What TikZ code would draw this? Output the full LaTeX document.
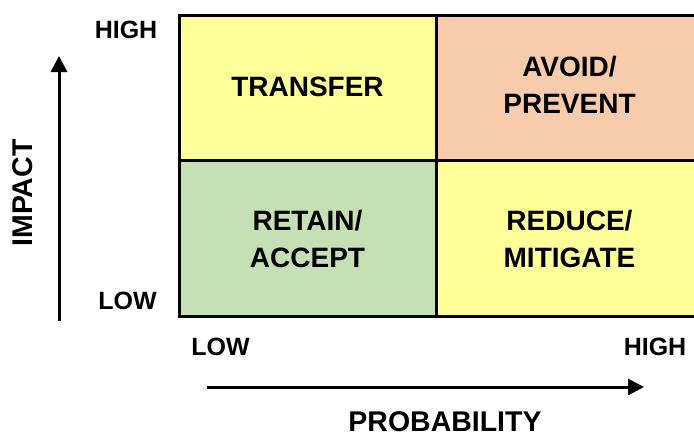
\documentclass[tikz,border=0pt]{standalone}
\usepackage{fontspec}
\setmainfont{Liberation Sans}
\usetikzlibrary{arrows.meta}

\definecolor{cellyellow}{HTML}{FFFF99}
\definecolor{cellorange}{HTML}{F8CBAD}
\definecolor{cellgreen}{HTML}{C5E0B4}

\tikzset{
  cell/.style={draw=black, line width=3pt},
  celltext/.style={font=\fontsize{28}{37}\selectfont\bfseries, align=center, inner sep=0pt},
  scaletext/.style={font=\fontsize{25}{28}\selectfont\bfseries, inner sep=0pt},
  axistitle/.style={font=\fontsize{28.5}{32}\selectfont\bfseries, inner sep=0pt},
  axisarrow/.style={line width=3pt, -{Triangle[width=16pt,length=16pt]}},
}

\begin{document}
\begin{tikzpicture}[x=1pt, y=-1pt]
  \useasboundingbox (0,0) rectangle (694,437);
  \clip (0,0) rectangle (694,437);

  % quadrant fills
  \fill[cellyellow] (179,15) rectangle (436.5,160);
  \fill[cellorange] (436.5,15) rectangle (710,160);
  \fill[cellgreen]  (179,160) rectangle (436.5,316);
  \fill[cellyellow] (436.5,160) rectangle (710,316);

  % grid lines
  \draw[cell] (710,15) -- (179,15) -- (179,316) -- (710,316);
  \draw[cell] (179,160) -- (710,160);
  \draw[cell] (436.5,15) -- (436.5,316);

  % quadrant labels
  \node[celltext] (transfer) at (307.5,86.5) {TRANSFER};
  \node[celltext] (avoid)    at (569.5,85)   {AVOID/\\PREVENT};
  \node[celltext] (retain)   at (307.5,239)  {RETAIN/\\ACCEPT};
  \node[celltext] (reduce)   at (569.5,239)  {REDUCE/\\MITIGATE};

  % impact axis
  \node[scaletext] (ihigh) at (126,29.5) {HIGH};
  \node[scaletext] (ilow)  at (127.5,301) {LOW};
  \coordinate (ibot) at (59,321);
  \coordinate (itop) at (59,56);
  \draw[axisarrow] (ibot) -- (itop);
  \node[axistitle, rotate=90] (impact) at (23,193) {IMPACT};

  % probability axis
  \node[scaletext] (plow)  at (220.5,346.5) {LOW};
  \node[scaletext] (phigh) at (655,346.5) {HIGH};
  \coordinate (pleft)  at (207,387);
  \coordinate (pright) at (644,387);
  \draw[axisarrow] (pleft) -- (pright);
  \node[axistitle] (prob) at (445,422) {PROBABILITY};
\end{tikzpicture}
\end{document}
